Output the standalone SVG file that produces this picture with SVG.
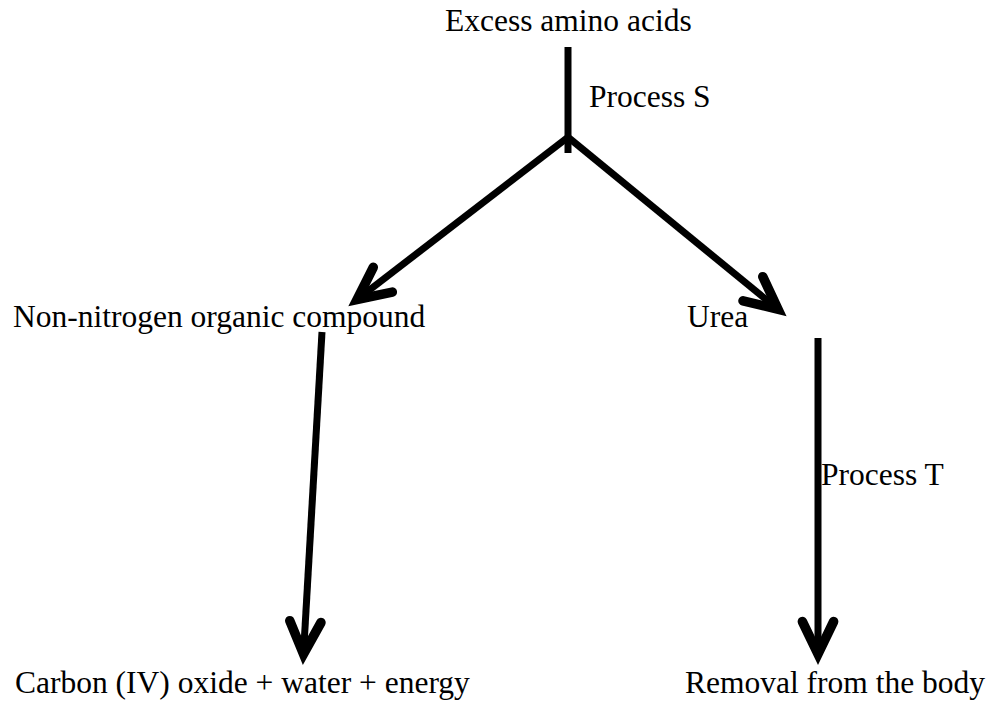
<svg xmlns="http://www.w3.org/2000/svg" width="993" height="702" viewBox="0 0 993 702">
  <style>
    .lbl { font-family: "Liberation Serif", "Times New Roman", serif; font-size: 31.5px; fill: #000; }
    .edge { stroke: #000; stroke-width: 7; fill: none; stroke-linecap: butt; }
  </style>
  <defs>
    <marker id="arrow" markerUnits="userSpaceOnUse" markerWidth="60" markerHeight="60" refX="0" refY="0" viewBox="-40 -25 50 50" orient="auto" overflow="visible">
      <path d="M -27,-13 L 0,0 L -27,13" fill="none" stroke="#000" stroke-width="8" stroke-linecap="round" stroke-linejoin="miter" stroke-miterlimit="10"/>
    </marker>
  </defs>
  <rect width="993" height="702" fill="#fff"/>

  <g id="connectors">
    <line class="edge" x1="568" y1="47" x2="568" y2="153"/>
    <line class="edge" x1="567" y1="138" x2="357.1" y2="299.5" marker-end="url(#arrow)"/>
    <line class="edge" x1="569" y1="138" x2="778" y2="309.3" marker-end="url(#arrow)"/>
    <line class="edge" x1="322" y1="332" x2="303.5" y2="654" marker-end="url(#arrow)"/>
    <line class="edge" x1="818" y1="338" x2="818" y2="654" marker-end="url(#arrow)"/>
  </g>

  <g id="node-excess">
    <text class="lbl" x="445" y="31">Excess amino acids</text>
  </g>
  <g id="label-process-s">
    <text class="lbl" x="589" y="107">Process S</text>
  </g>
  <g id="node-nonnitrogen">
    <text class="lbl" x="13" y="327">Non-nitrogen organic compound</text>
  </g>
  <g id="node-urea">
    <text class="lbl" x="687" y="327">Urea</text>
  </g>
  <g id="label-process-t">
    <text class="lbl" x="821" y="485">Process T</text>
  </g>
  <g id="node-carbon">
    <text class="lbl" x="15" y="693">Carbon (IV) oxide + water + energy</text>
  </g>
  <g id="node-removal">
    <text class="lbl" x="685" y="693">Removal from the body</text>
  </g>
</svg>
